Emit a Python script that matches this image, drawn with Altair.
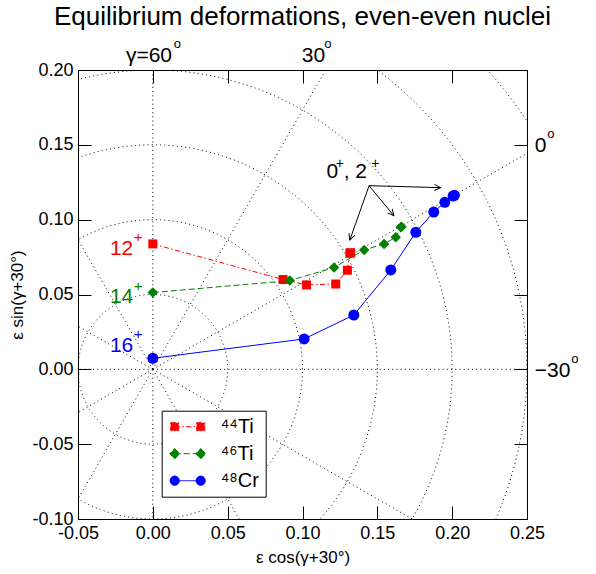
import math

import altair as alt
import numpy as np
import pandas as pd

# Equilibrium (epsilon, gamma) points of the yrast states, highest spin first, down to 0+
# plotted as x = eps*cos(gamma+30), y = eps*sin(gamma+30)
ti44_x = [0.0000, 0.0870, 0.1027, 0.1222, 0.1300, 0.1316, 0.1322]
ti44_y = [0.0838, 0.0600, 0.0564, 0.0570, 0.0662, 0.0776, 0.0779]
ti44_spin = [12, 10, 8, 6, 4, 2, 0]

ti46_x = [0.0000, 0.0915, 0.1211, 0.1412, 0.1545, 0.1623, 0.1657, 0.1662]
ti46_y = [0.0513, 0.0593, 0.0680, 0.0798, 0.0838, 0.0882, 0.0949, 0.0952]
ti46_spin = [14, 12, 10, 8, 6, 4, 2, 0]

cr48_x = [0.0000, 0.1011, 0.1343, 0.1590, 0.1757, 0.1877, 0.1951, 0.2006, 0.2015]
cr48_y = [0.0074, 0.0203, 0.0363, 0.0664, 0.0916, 0.1051, 0.1116, 0.1158, 0.1163]
cr48_spin = [16, 14, 12, 10, 8, 6, 4, 2, 0]

NAMES = ["⁴⁴Ti", "⁴⁶Ti", "⁴⁸Cr"]
COLORS = ["#ff0000", "#008000", "#0000ff"]

X_DOMAIN = [-0.05, 0.25]
Y_DOMAIN = [-0.10, 0.20]
x_ticks = [-0.05, 0.0, 0.05, 0.10, 0.15, 0.20, 0.25]
y_ticks = [-0.10, -0.05, 0.0, 0.05, 0.10, 0.15, 0.20]

# polar (epsilon, gamma) grid
grid_radii = [0.05, 0.10, 0.15, 0.20, 0.25, 0.30]
spoke_angles = list(range(0, 360, 30))

FONT = "Liberation Sans"
W = H = 449

xs = alt.Scale(domain=X_DOMAIN, nice=False, zero=False)
ys = alt.Scale(domain=Y_DOMAIN, nice=False, zero=False)

label_expr = "(datum.value < 0 ? '-' : '') + format(abs(datum.value), '.2f')"

common_axis = dict(
    offset=-13, tickSize=13, domain=False, grid=False, tickColor="black",
    tickWidth=1, labelFont=FONT, labelFontSize=18, labelColor="black",
    labelFlush=False, labelOverlap=False, titleFont=FONT, titleFontSize=17,
    titleFontWeight="normal", titleColor="black",
)
bottom_axis = alt.Axis(orient="bottom", values=x_ticks, labelExpr=label_expr,
                       labelPadding=5, titlePadding=7, **common_axis)
left_axis = alt.Axis(orient="left", values=y_ticks, labelExpr=label_expr,
                     labelPadding=5, titlePadding=5, **common_axis)
top_axis = alt.Axis(orient="top", values=x_ticks, labels=False, title=None, **common_axis)
right_axis = alt.Axis(orient="right", values=y_ticks, labels=False, title=None, **common_axis)

# --- grid -------------------------------------------------------------------
ring_rows = []
for r in grid_radii:
    for i, t in enumerate(np.linspace(0.0, 2.0 * np.pi, 721)):
        ring_rows.append({"r": r, "i": i, "x": r * np.cos(t), "y": r * np.sin(t)})
rings_df = pd.DataFrame(ring_rows)

spokes_df = pd.DataFrame({
    "x0": [0.0] * len(spoke_angles),
    "y0": [0.0] * len(spoke_angles),
    "x1": [0.5 * math.cos(math.radians(a)) for a in spoke_angles],
    "y1": [0.5 * math.sin(math.radians(a)) for a in spoke_angles],
})

DOT = [1, 3.2]
rings = alt.Chart(rings_df).mark_line(
    clip=True, color="black", strokeWidth=1, strokeDash=DOT
).encode(
    x=alt.X("x:Q", scale=xs, axis=bottom_axis, title="ε cos(γ+30°)"),
    y=alt.Y("y:Q", scale=ys, axis=left_axis, title="ε sin(γ+30°)"),
    detail="r:N",
    order="i:Q",
)
spokes = alt.Chart(spokes_df).mark_rule(
    clip=True, color="black", strokeWidth=1, strokeDash=DOT
).encode(
    x=alt.X("x0:Q", scale=xs, axis=top_axis),
    y=alt.Y("y0:Q", scale=ys, axis=right_axis),
    x2="x1:Q",
    y2="y1:Q",
)

# --- data series ------------------------------------------------------------
series = [
    (NAMES[0], ti44_x, ti44_y, ti44_spin, COLORS[0], "square", 81, [5, 2.5, 1.5, 2.5]),
    (NAMES[1], ti46_x, ti46_y, ti46_spin, COLORS[1], "diamond", 110, [6, 3]),
    (NAMES[2], cr48_x, cr48_y, cr48_spin, COLORS[2], "circle", 121, None),
]

frames = []
series_layers = []
for name, sx, sy, spin, color, shape, size, dash in series:
    df = pd.DataFrame({"x": sx, "y": sy, "spin": spin, "i": range(len(sx)), "nucleus": name})
    frames.append(df)
    line_kw = dict(color=color, strokeWidth=1)
    if dash:
        line_kw["strokeDash"] = dash
    line = alt.Chart(df).mark_line(**line_kw).encode(
        x=alt.X("x:Q", scale=xs, axis=None),
        y=alt.Y("y:Q", scale=ys, axis=None),
        order="i:Q",
    )
    pts = alt.Chart(df).mark_point(
        shape=shape, size=size, filled=True, color=color, opacity=1
    ).encode(
        x=alt.X("x:Q", scale=xs, axis=None),
        y=alt.Y("y:Q", scale=ys, axis=None),
    )
    series_layers += [line, pts]

all_df = pd.concat(frames, ignore_index=True)

# legend symbols: a short line with a marker at each end (units of sqrt(size)/2)
legend_paths = [
    "M-3.25,0H3.25M-4.25,-1H-2.25V1H-4.25ZM2.25,-1H4.25V1H2.25Z",
    "M-3.25,0H3.25M-3.25,-1.3L-2,0L-3.25,1.3L-4.5,0ZM3.25,-1.3L4.5,0L3.25,1.3L2,0Z",
    "M-3.25,0H3.25M-2.1,0A1.15,1.15,0,1,1,-4.4,0A1.15,1.15,0,1,1,-2.1,0Z"
    "M4.4,0A1.15,1.15,0,1,1,2.1,0A1.15,1.15,0,1,1,4.4,0Z",
]
legend_dashes = [[5, 2.5, 1.5, 2.5], [6, 3], [1, 0]]

legend = alt.Legend(
    title=None, orient="none", legendX=83.7, legendY=340.7,
    labelFont=FONT, labelFontSize=20, labelColor="black",
    symbolSize=64, symbolStrokeWidth=1, symbolOpacity=1,
    symbolOffset=10, labelOffset=23, rowPadding=7, padding=6,
    strokeColor="black", fillColor="white",
)
legend_layer = alt.Chart(all_df).mark_point(
    filled=True, opacity=0, size=64, strokeWidth=1
).encode(
    x=alt.X("x:Q", scale=xs, axis=None),
    y=alt.Y("y:Q", scale=ys, axis=None),
    color=alt.Color("nucleus:N", scale=alt.Scale(domain=NAMES, range=COLORS), legend=legend),
    stroke=alt.Stroke("nucleus:N", scale=alt.Scale(domain=NAMES, range=COLORS), legend=legend),
    shape=alt.Shape("nucleus:N", scale=alt.Scale(domain=NAMES, range=legend_paths), legend=legend),
    strokeDash=alt.StrokeDash("nucleus:N", scale=alt.Scale(domain=NAMES, range=legend_dashes), legend=legend),
)

# --- arrows to the 0+, 2+ states -------------------------------------------
arrow_from = (0.1445, 0.1227)
arrow_to_x = [0.1922, 0.1610, 0.1316]
arrow_to_y = [0.1214, 0.1027, 0.0864]
arrows_df = pd.DataFrame({
    "x0": [arrow_from[0]] * 3, "y0": [arrow_from[1]] * 3,
    "x1": arrow_to_x, "y1": arrow_to_y,
})
arrows_df["angle"] = [
    math.degrees(math.atan2(-(y1 - arrow_from[1]), x1 - arrow_from[0])) % 360
    for x1, y1 in zip(arrow_to_x, arrow_to_y)
]
arrow_lines = alt.Chart(arrows_df).mark_rule(color="black", strokeWidth=1).encode(
    x=alt.X("x0:Q", scale=xs, axis=None), y=alt.Y("y0:Q", scale=ys, axis=None),
    x2="x1:Q", y2="y1:Q",
)
arrow_heads = alt.Chart(arrows_df).mark_point(
    shape="M-1,-0.5L0,0L-1,0.5", filled=False, color="black", strokeWidth=1, size=150, opacity=1
).encode(
    x=alt.X("x1:Q", scale=xs, axis=None), y=alt.Y("y1:Q", scale=ys, axis=None),
    angle=alt.Angle("angle:Q", scale=None),
)

# --- text pieces (main text plus raised superscripts) -----------------------
text_pieces = [
    # spin labels
    ("12", -0.0287, 0.0764, 21, COLORS[0]), ("+", -0.0128, 0.0848, 15, COLORS[0]),
    ("14", -0.0287, 0.0446, 21, COLORS[1]), ("+", -0.0128, 0.0524, 15, COLORS[1]),
    ("16", -0.0287, 0.0118, 21, COLORS[2]), ("+", -0.0128, 0.0200, 15, COLORS[2]),
    # band-head annotation
    ("0", 0.1160, 0.1277, 21, "black"), ("+", 0.1222, 0.1345, 14, "black"),
    (", 2", 0.1275, 0.1277, 21, "black"), ("+", 0.1460, 0.1345, 14, "black"),
    # gamma labels
    ("γ=60", -0.0180, 0.2053, 21, "black"), ("o", 0.0140, 0.2150, 13, "black"),
    ("30", 0.0995, 0.2053, 21, "black"), ("o", 0.1145, 0.2150, 13, "black"),
    ("0", 0.2552, 0.1452, 21, "black"), ("o", 0.2635, 0.1546, 13, "black"),
    ("−30", 0.2552, -0.0051, 21, "black"), ("o", 0.2795, 0.0043, 13, "black"),
]
text_df = pd.DataFrame(text_pieces, columns=["text", "x", "y", "size", "color"])
text_layers = []
for (color, size), grp in text_df.groupby(["color", "size"]):
    text_layers.append(
        alt.Chart(grp).mark_text(
            align="left", baseline="alphabetic", font=FONT, fontSize=int(size), color=color
        ).encode(
            x=alt.X("x:Q", scale=xs, axis=None),
            y=alt.Y("y:Q", scale=ys, axis=None),
            text="text:N",
        )
    )

chart = alt.layer(
    rings, spokes, *series_layers, legend_layer, arrow_lines, arrow_heads, *text_layers
).resolve_axis(
    x="independent", y="independent"
).properties(
    width=W, height=H,
    autosize=alt.AutoSizeParams(type="none"),
    padding={"left": 78, "top": 70, "right": 69, "bottom": 55},
    title=alt.TitleParams(
        "Equilibrium deformations, even-even nuclei",
        font=FONT, fontSize=26, fontWeight="normal", color="black",
        anchor="middle", offset=8,
    ),
).configure_view(stroke="black", strokeWidth=1)

chart.save("out.html", embed_options={"renderer": "svg", "actions": False})
